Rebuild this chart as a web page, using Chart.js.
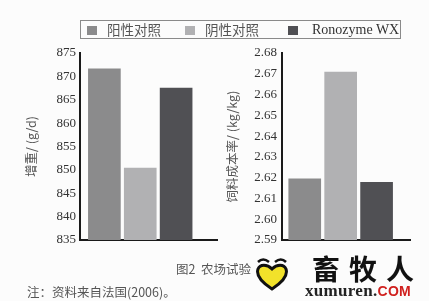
<!DOCTYPE html>
<html>
<head>
<meta charset="utf-8">
<script src="https://cdn.jsdelivr.net/npm/chart.js@4/dist/chart.umd.min.js"></script>
<style>
  html, body { margin: 0; padding: 0; background: #fcfcfc; }
  #wrap { position: relative; width: 429px; height: 301px; overflow: hidden; font-family: "Noto Sans CJK SC", sans-serif; }
  canvas { position: absolute; top: 0; }
  #legend { position: absolute; left: 80px; top: 20px; width: 321px; height: 19px; border: 1px solid #8a8a8a; box-sizing: border-box; }
  .item { position: absolute; top: 0; height: 17px; line-height: 17px; font-size: 13.5px; color: #555; white-space: nowrap; }
  .item i { position: absolute; top: 5px; width: 10px; height: 9px; }
  .item span { position: absolute; top: 0; }
  .caption { position: absolute; font-size: 12.5px; color: #555; white-space: nowrap; line-height: 14px; }
  #logo { position: absolute; left: 255px; top: 256px; }
  #brand { position: absolute; left: 312px; top: 252px; font-size: 28px; font-weight: bold; color: #111; letter-spacing: 9px; line-height: 32px; }
  #site { position: absolute; left: 305px; top: 283px; font-family: "Liberation Serif", serif; font-weight: bold; font-size: 17px; color: #222; line-height: 16px; letter-spacing: 0.3px; }
  #site b { color: #d0201e; font-family: "Liberation Sans", sans-serif; font-size: 14px; }
</style>
</head>
<body>
<div id="wrap">
  <canvas id="gainChart" width="220" height="260" style="left:0;width:220px;height:260px"></canvas>
  <canvas id="costChart" width="214" height="260" style="left:215px;width:214px;height:260px"></canvas>
  <div id="legend"></div>
  <div class="caption" style="left:176px;top:262px;">图2&nbsp;&nbsp;农场试验</div>
  <div class="caption" style="left:27px;top:285px;">注：资料来自法国(2006)。</div>
  <svg id="logo" width="34" height="36" viewBox="0 0 34 36">
    <path d="M3 6 Q8 1 14 6" stroke="#111" stroke-width="2.5" fill="none"/>
    <path d="M20 6 Q26 1 31 6" stroke="#111" stroke-width="2.5" fill="none"/>
    <path d="M17 33 C6 26 1 19 3 13 C5 8 12 8 17 13 C22 8 29 8 31 13 C33 19 28 26 17 33 Z" fill="#f2e22a" stroke="#111" stroke-width="3"/>
  </svg>
  <div id="brand">畜牧人</div>
  <div id="site">xumuren.<b>COM</b></div>
</div>
<script>
// groups and colours
const groups = ['阳性对照', '阴性对照', 'Ronozyme WX'];
const barColors = ['#8b8b8c', '#b1b1b3', '#505054'];

// weight gain, g/d
const gainValues = [871.6, 850.4, 867.5];
// feed cost ratio, kg/kg
const costValues = [2.6194, 2.6708, 2.6178];

const serif = "'Liberation Serif', 'Times New Roman', serif";
const cjk = "'Noto Sans CJK SC', sans-serif";

// html legend box across both panels
const legendPos = [{ sq: 6, tx: 26 }, { sq: 104, tx: 124 }, { sq: 207, tx: 231 }];
const legendEl = document.getElementById('legend');
groups.forEach((g, i) => {
    const it = document.createElement('div');
    it.className = 'item';
    it.style.left = '0px';
    const isLatin = /^[A-Za-z]/.test(g);
    it.innerHTML = '<i style="left:' + legendPos[i].sq + 'px;background:' + barColors[i] + '"></i>' +
        '<span style="left:' + legendPos[i].tx + 'px;' + (isLatin ? 'font-family:' + serif + ';font-size:14px;color:#333' : '') + '">' + g + '</span>';
    legendEl.appendChild(it);
});

function makeChart(id, values, yOpts, xRange, padding, yWidth) {
    const ctx = document.getElementById(id).getContext('2d');
    return new Chart(ctx, {
        type: 'bar',
        data: {
            datasets: [{
                label: yOpts.title,
                data: values.map((v, i) => ({ x: i + 1, y: v })),
                backgroundColor: barColors,
                borderWidth: 0,
                barThickness: 32
            }]
        },
        options: {
            responsive: false,
            animation: false,
            layout: { padding: padding },
            plugins: { legend: { display: false }, tooltip: { enabled: false } },
            scales: {
                x: {
                    type: 'linear',
                    offset: false,
                    min: xRange[0],
                    max: xRange[1],
                    ticks: { display: false },
                    grid: { display: false, drawTicks: false },
                    border: { color: '#1a1a1a', width: 2 }
                },
                y: {
                    min: yOpts.min,
                    max: yOpts.max,
                    afterFit: scale => { scale.width = yWidth; },
                    ticks: {
                        stepSize: yOpts.step,
                        padding: yOpts.tickPad,
                        color: '#333',
                        font: { family: serif, size: 13 },
                        callback: v => v.toFixed(yOpts.digits)
                    },
                    grid: { display: false, drawTicks: false },
                    border: { color: '#1a1a1a', width: 2 },
                    title: {
                        display: true,
                        text: yOpts.title,
                        color: '#555',
                        font: { family: cjk, size: 12.5 },
                        padding: { top: 6, bottom: 0 }
                    }
                }
            }
        }
    });
}

makeChart('gainChart', gainValues,
    { min: 835, max: 875, step: 5, digits: 0, tickPad: 4, title: '增重/ (g/d)' },
    [0.32, 4.14], { left: 18, top: 53, right: 3, bottom: 20 }, 62);

makeChart('costChart', costValues,
    { min: 2.59, max: 2.68, step: 0.01, digits: 2, tickPad: 5, title: '饲料成本率/ (kg/kg)' },
    [0.367, 3.93], { left: 4, top: 53, right: 19, bottom: 20 }, 63);
</script>
</body>
</html>
